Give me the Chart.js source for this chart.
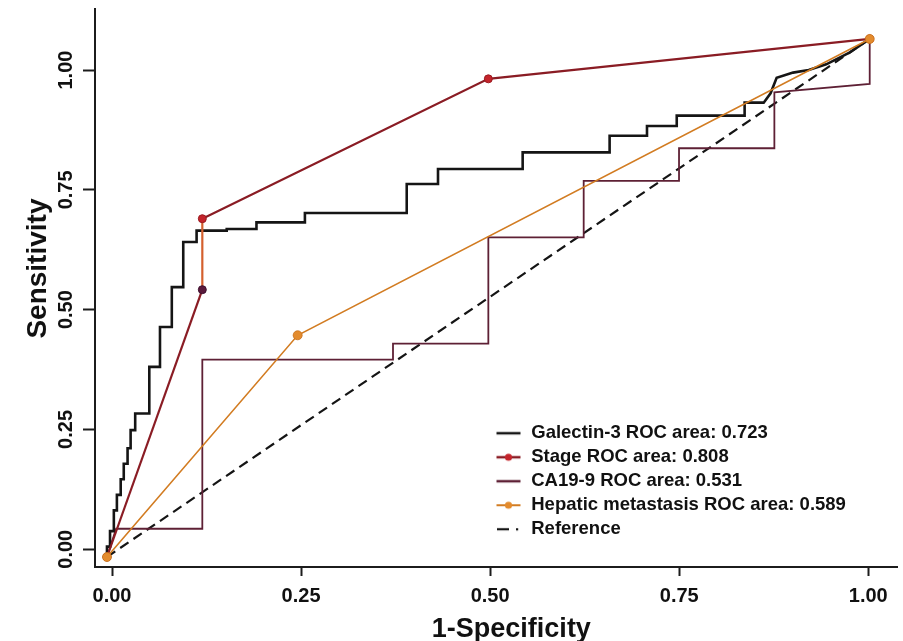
<!DOCTYPE html>
<html>
<head>
<meta charset="utf-8">
<script src="https://cdn.jsdelivr.net/npm/chart.js@4.4.1/dist/chart.umd.min.js"></script>
<style>
html,body{margin:0;padding:0;background:#ffffff;}
#wrap{width:903px;height:641px;}
</style>
</head>
<body>
<div id="wrap"><canvas id="c" width="903" height="641"></canvas></div>
<script>
// ---------------- data ----------------
const seriesLabels = [
  'Galectin-3 ROC area: 0.723',
  'Stage ROC area: 0.808',
  'CA19-9 ROC area: 0.531',
  'Hepatic metastasis ROC area: 0.589',
  'Reference'
];

// Galectin-3 ROC (1-specificity, sensitivity)
const galectinFpr = [0, 0, 0.004, 0.004, 0.009, 0.009, 0.013, 0.013, 0.018, 0.018, 0.022, 0.022, 0.027, 0.027, 0.031, 0.031, 0.037, 0.037,
  0.0555, 0.0555, 0.0695, 0.0695, 0.085, 0.085, 0.100, 0.100, 0.1175, 0.1175, 0.157, 0.157, 0.196, 0.196, 0.2595, 0.2595,
  0.393, 0.393, 0.434, 0.434, 0.545, 0.545, 0.659, 0.659, 0.708, 0.708, 0.747, 0.747, 0.836, 0.836,
  0.861, 0.870, 0.878, 0.8995, 0.920, 0.943, 0.974, 1];
const galectinTpr = [0, 0.02, 0.02, 0.05, 0.05, 0.09, 0.09, 0.12, 0.12, 0.15, 0.15, 0.18, 0.18, 0.21, 0.21, 0.245, 0.245, 0.277,
  0.277, 0.367, 0.367, 0.444, 0.444, 0.521, 0.521, 0.608, 0.608, 0.630, 0.630, 0.633, 0.633, 0.646, 0.646, 0.664,
  0.664, 0.720, 0.720, 0.749, 0.749, 0.781, 0.781, 0.813, 0.813, 0.832, 0.832, 0.852, 0.852, 0.877,
  0.877, 0.895, 0.925, 0.935, 0.940, 0.951, 0.974, 1];

// Stage ROC
const stageFpr = [0, 0.125, 0.125, 0.5, 1];
const stageTpr = [0, 0.516, 0.653, 0.923, 1];

// CA19-9 ROC
const caFpr = [0, 0.012, 0.125, 0.125, 0.375, 0.375, 0.5, 0.5, 0.625, 0.625, 0.75, 0.75, 0.875, 0.875, 1, 1];
const caTpr = [0, 0.0545, 0.0545, 0.381, 0.381, 0.412, 0.412, 0.617, 0.617, 0.726, 0.726, 0.789, 0.789, 0.897, 0.913, 1];

// Hepatic metastasis ROC
const hepFpr = [0, 0.25, 1];
const hepTpr = [0, 0.428, 1];

// Reference (chance) line
const refFpr = [0, 1];
const refTpr = [0, 1];

// Axis tick values and titles
const tickValues = [0, 0.25, 0.5, 0.75, 1];
const xTitle = '1-Specificity';
const yTitle = 'Sensitivity';

// ---------------- styling ----------------
const COL_GAL = '#151515';
const COL_STAGE = '#8a1c24';
const COL_STAGE_PT = '#c4242b';
const COL_STAGE_PT2 = '#5a1a3c';
const COL_STAGE_VERT = '#d4602e';
const COL_CA = '#5e2035';
const COL_HEP = '#d27c22';
const COL_HEP_PT = '#e38b2d';
const COL_REF = '#151515';
const AXIS = '#1c1c1c';

Chart.defaults.font.family = "'Liberation Sans', Arial, Helvetica, sans-serif";
Chart.defaults.color = '#111';

function pts(xs, ys) { return xs.map((x, i) => ({x: x, y: ys[i]})); }

function symbol(color, width, dash, dotColor, dotR) {
  const c = document.createElement('canvas');
  c.width = 27; c.height = 18;
  const g = c.getContext('2d');
  g.strokeStyle = color; g.lineWidth = width;
  if (dash === 'refdash') {
    g.beginPath(); g.moveTo(2, 9); g.lineTo(14, 9); g.stroke();
    g.fillStyle = color; g.fillRect(21, 8, 2.2, 2.2);
  } else {
    g.beginPath(); g.moveTo(1.5, 9); g.lineTo(25.5, 9); g.stroke();
  }
  if (dotColor) {
    g.fillStyle = dotColor; g.beginPath(); g.arc(13.5, 9, dotR, 0, Math.PI * 2); g.fill();
  }
  return c;
}
const legendSymbols = [
  symbol(COL_GAL, 2.5),
  symbol(COL_STAGE, 2.5, null, COL_STAGE_PT, 3.6),
  symbol(COL_CA, 2.5),
  symbol(COL_HEP, 2, null, COL_HEP_PT, 3.6),
  symbol(COL_REF, 2.2, 'refdash')
];

// chart area: x 95..898, y 8..567
// data axes: x 0 -> 107px, 1 -> 870px ; y 0 -> 557px, 1 -> 38px
const X_MIN = -0.0157, X_MAX = 1.0367;
const Y_MIN = -0.0193, Y_MAX = 1.0578;
// tick axes as drawn in the reference (x: 0 -> 112px, 1 -> 868.6px ; y: 0 -> 549px, 1 -> 69px)
const XT_MIN = -0.0225, XT_MAX = 1.0389;
const YT_MIN = -0.0371, YT_MAX = 1.1275;

const legendPlacer = {
  id: 'legendPlacer',
  afterLayout(chart) {
    const lg = chart.legend;
    if (!lg) return;
    lg.left = 489.5; lg.top = 418.5;
    lg.right = lg.left + 410; lg.bottom = lg.top + 160;
    lg.width = 410; lg.height = 160;
  }
};

new Chart(document.getElementById('c'), {
  type: 'line',
  data: {
    datasets: [
      { label: seriesLabels[0], data: pts(galectinFpr, galectinTpr), borderColor: COL_GAL, backgroundColor: COL_GAL,
        borderWidth: 2.6, pointRadius: 0, order: 2, tension: 0, fill: false },
      { label: seriesLabels[1], data: pts(stageFpr, stageTpr), borderColor: COL_STAGE, backgroundColor: COL_STAGE_PT,
        borderWidth: 2.2, pointRadius: 4, pointBorderWidth: 1,
        pointBackgroundColor: [COL_STAGE_PT, COL_STAGE_PT2, COL_STAGE_PT, COL_STAGE_PT, COL_STAGE_PT],
        pointBorderColor: ['#9a1a20', '#3e1030', '#9a1a20', '#9a1a20', '#9a1a20'],
        segment: { borderColor: c => (c.p0.parsed.x === c.p1.parsed.x ? COL_STAGE_VERT : undefined) },
        order: 1, tension: 0, fill: false },
      { label: seriesLabels[2], data: pts(caFpr, caTpr), borderColor: COL_CA, backgroundColor: COL_CA,
        borderWidth: 1.8, pointRadius: 0, order: 3, tension: 0, fill: false },
      { label: seriesLabels[3], data: pts(hepFpr, hepTpr), borderColor: COL_HEP, backgroundColor: COL_HEP_PT,
        borderWidth: 1.6, pointRadius: 4.5, pointBorderWidth: 0.8, pointBackgroundColor: COL_HEP_PT, pointBorderColor: '#c8701c',
        order: 0, tension: 0, fill: false },
      { label: seriesLabels[4], data: pts(refFpr, refTpr), borderColor: COL_REF, backgroundColor: COL_REF,
        borderWidth: 2.2, borderDash: [10, 6], pointRadius: 0, order: 4, tension: 0, fill: false }
    ]
  },
  options: {
    responsive: false,
    devicePixelRatio: 1,
    animation: false,
    events: [],
    layout: { padding: { top: 8, right: 5, left: 0, bottom: 0 } },
    plugins: {
      tooltip: { enabled: false },
      title: { display: false },
      legend: {
        display: true,
        position: 'chartArea',
        align: 'start',
        labels: {
          usePointStyle: true,
          pointStyleWidth: 27,
          padding: 5.5,
          color: '#111',
          font: { size: 18.5, weight: 'bold' },
          generateLabels(chart) {
            const items = Chart.defaults.plugins.legend.labels.generateLabels(chart);
            items.sort((a, b) => a.datasetIndex - b.datasetIndex);
            items.forEach(it => { it.pointStyle = legendSymbols[it.datasetIndex]; it.rotation = 0; it.fontColor = '#111'; });
            return items;
          }
        }
      }
    },
    scales: {
      x: { type: 'linear', display: false, min: X_MIN, max: X_MAX },
      y: { type: 'linear', display: false, min: Y_MIN, max: Y_MAX },
      xTicks: {
        type: 'linear', position: 'bottom', min: XT_MIN, max: XT_MAX,
        afterBuildTicks: s => { s.ticks = tickValues.map(v => ({ value: v })); },
        afterFit: s => { s.height = 74; },
        border: { display: true, color: AXIS, width: 2 },
        grid: { display: true, drawOnChartArea: false, drawTicks: true, tickLength: 9, tickWidth: 2, tickColor: AXIS },
        ticks: { color: '#111', font: { size: 20, weight: 'bold' }, padding: 8, maxRotation: 0, minRotation: 0, autoSkip: false,
                 callback: v => Number(v).toFixed(2) },
        title: { display: true, text: '    ' + xTitle, color: '#111', font: { size: 27, weight: 'bold', lineHeight: 1 },
                 padding: { top: 0, bottom: -2 } }
      },
      yTicks: {
        type: 'linear', position: 'left', min: YT_MIN, max: YT_MAX,
        afterBuildTicks: s => { s.ticks = tickValues.map(v => ({ value: v })); },
        afterFit: s => { s.width = 95; },
        border: { display: true, color: AXIS, width: 2 },
        grid: { display: true, drawOnChartArea: false, drawTicks: true, tickLength: 12, tickWidth: 2, tickColor: AXIS },
        ticks: { color: '#111', font: { size: 20, weight: 'bold' }, padding: -3, minRotation: 90, maxRotation: 90,
                 crossAlign: 'center', autoSkip: false, callback: v => Number(v).toFixed(2) },
        title: { display: true, text: '     ' + yTitle, color: '#111', font: { size: 28, weight: 'bold', lineHeight: 1.2 },
                 padding: { top: 21, bottom: 0 } }
      }
    }
  },
  plugins: [legendPlacer]
});
</script>
</body>
</html>
